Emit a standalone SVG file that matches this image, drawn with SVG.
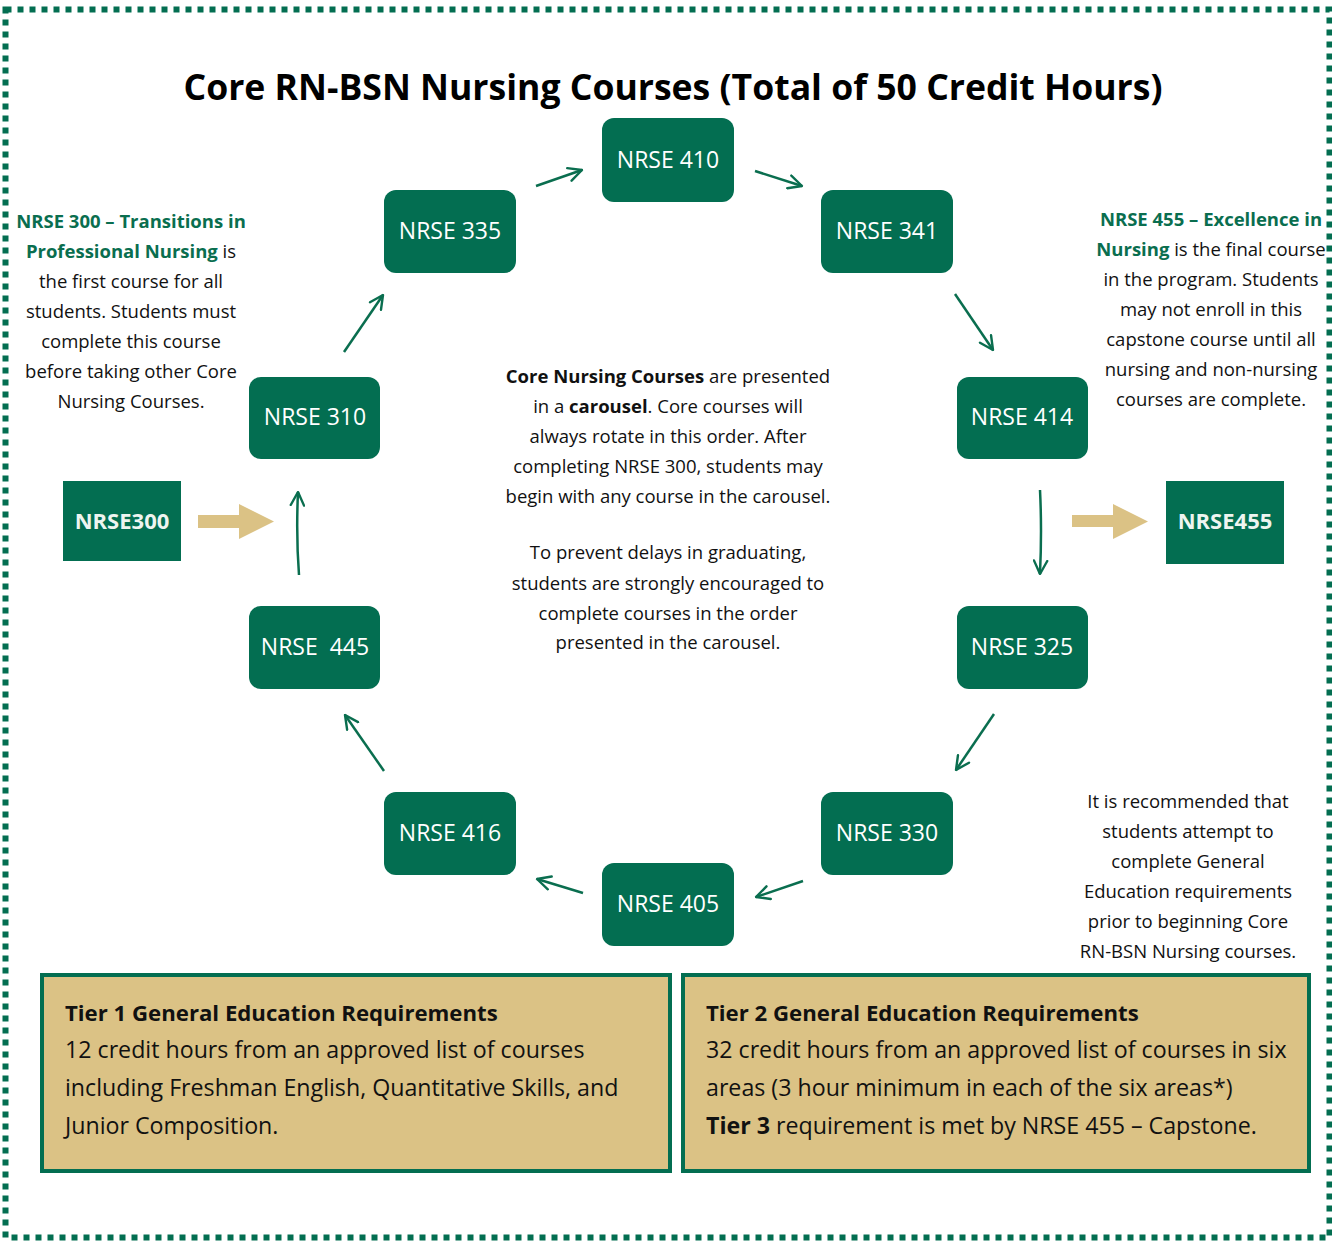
<svg xmlns="http://www.w3.org/2000/svg" width="1332" height="1242" viewBox="0 0 1332 1242">
<defs>
<style>
.node{fill:#036E51;}
.nt{font-family:"Open Sans","Liberation Sans",sans-serif;font-size:23px;fill:#ffffff;text-anchor:middle;}
.nb{font-family:"Open Sans","Liberation Sans",sans-serif;font-size:22px;font-weight:bold;fill:#eef5f0;text-anchor:middle;}
.p{font-family:"Open Sans","Liberation Sans",sans-serif;font-size:18.5px;fill:#111;text-anchor:middle;}
.g{fill:#0A6E4F;font-weight:bold;}
.b{font-weight:bold;}
.tier{fill:#DBC285;stroke:#036E51;stroke-width:4;}
.tt{font-family:"Open Sans","Liberation Sans",sans-serif;font-size:23.2px;fill:#111;}
.th{font-size:22.2px;font-weight:bold;}
.conn{stroke:#0A6E4F;stroke-width:2.5;fill:none;marker-end:url(#ah);}
.tan{fill:#DBC285;}
</style>
<marker id="ah" viewBox="0 0 12 12" refX="11" refY="6" markerWidth="16" markerHeight="16" markerUnits="userSpaceOnUse" orient="auto">
<path d="M1,1 L11,6 L1,11" fill="none" stroke="#0A6E4F" stroke-width="1.8" stroke-linecap="round" stroke-linejoin="round"/>
</marker>
</defs>
<rect x="0" y="0" width="1332" height="1242" fill="#ffffff"/>
<rect x="5.5" y="9.5" width="1324" height="1228" fill="none" stroke="#036E51" stroke-width="6" stroke-dasharray="6 6"/>
<text x="673" y="100" font-family="Open Sans, Liberation Sans, sans-serif" font-size="35" font-weight="bold" fill="#000" text-anchor="middle" textLength="979" lengthAdjust="spacingAndGlyphs">Core RN-BSN Nursing Courses (Total of 50 Credit Hours)</text>

<g id="connectors">
<line class="conn" x1="536" y1="186" x2="582" y2="170"/>
<line class="conn" x1="755" y1="171" x2="802" y2="186"/>
<line class="conn" x1="955" y1="294" x2="993" y2="350"/>
<path class="conn" d="M1040,490 Q1042,530 1040,574"/>
<line class="conn" x1="994" y1="714" x2="956" y2="770"/>
<line class="conn" x1="803" y1="881" x2="756" y2="897"/>
<line class="conn" x1="583" y1="893" x2="537" y2="879"/>
<line class="conn" x1="384" y1="771" x2="345" y2="715"/>
<path class="conn" d="M299,575 Q296,535 298,492"/>
<line class="conn" x1="344" y1="352" x2="383" y2="295"/>
<polygon class="tan" points="198,515 239,515 239,504 274,521.5 239,539 239,528 198,528"/>
<polygon class="tan" points="1072,515 1113,515 1113,504 1148,521.5 1113,539 1113,527 1072,527"/>
</g>

<g id="n410"><rect class="node" x="602" y="118" width="132" height="84" rx="12"/><text class="nt" x="668" y="168">NRSE 410</text></g>
<g id="n335"><rect class="node" x="384" y="190" width="132" height="83" rx="12"/><text class="nt" x="450" y="239">NRSE 335</text></g>
<g id="n341"><rect class="node" x="821" y="190" width="132" height="83" rx="12"/><text class="nt" x="887" y="239">NRSE 341</text></g>
<g id="n310"><rect class="node" x="249" y="377" width="131" height="82" rx="12"/><text class="nt" x="315" y="425">NRSE 310</text></g>
<g id="n414"><rect class="node" x="957" y="377" width="131" height="82" rx="12"/><text class="nt" x="1022" y="425">NRSE 414</text></g>
<g id="n445"><rect class="node" x="249" y="606" width="131" height="83" rx="12"/><text class="nt" x="315" y="655" xml:space="preserve">NRSE  445</text></g>
<g id="n325"><rect class="node" x="957" y="606" width="131" height="83" rx="12"/><text class="nt" x="1022" y="655">NRSE 325</text></g>
<g id="n416"><rect class="node" x="384" y="792" width="132" height="83" rx="12"/><text class="nt" x="450" y="841">NRSE 416</text></g>
<g id="n330"><rect class="node" x="821" y="792" width="132" height="83" rx="12"/><text class="nt" x="887" y="841">NRSE 330</text></g>
<g id="n405"><rect class="node" x="602" y="863" width="132" height="83" rx="12"/><text class="nt" x="668" y="912">NRSE 405</text></g>
<g id="n300"><rect class="node" x="63" y="481" width="118" height="80"/><text class="nb" x="122" y="529">NRSE300</text></g>
<g id="n455"><rect class="node" x="1166" y="481" width="118" height="83"/><text class="nb" x="1225" y="529">NRSE455</text></g>

<g id="note-left">
<text class="p" x="131" y="228"><tspan class="g">NRSE 300 – Transitions in</tspan></text>
<text class="p" x="131" y="258"><tspan class="g">Professional Nursing</tspan> is</text>
<text class="p" x="131" y="288">the first course for all</text>
<text class="p" x="131" y="318">students. Students must</text>
<text class="p" x="131" y="348">complete this course</text>
<text class="p" x="131" y="378">before taking other Core</text>
<text class="p" x="131" y="408">Nursing Courses.</text>
</g>
<g id="note-right">
<text class="p" x="1211" y="226"><tspan class="g">NRSE 455 – Excellence in</tspan></text>
<text class="p" x="1211" y="256"><tspan class="g">Nursing</tspan> is the final course</text>
<text class="p" x="1211" y="286">in the program. Students</text>
<text class="p" x="1211" y="316">may not enroll in this</text>
<text class="p" x="1211" y="346">capstone course until all</text>
<text class="p" x="1211" y="376">nursing and non-nursing</text>
<text class="p" x="1211" y="406">courses are complete.</text>
</g>
<g id="note-center">
<text class="p" x="668" y="383"><tspan class="b">Core Nursing Courses</tspan> are presented</text>
<text class="p" x="668" y="413">in a <tspan class="b">carousel</tspan>. Core courses will</text>
<text class="p" x="668" y="443">always rotate in this order. After</text>
<text class="p" x="668" y="473">completing NRSE 300, students may</text>
<text class="p" x="668" y="503">begin with any course in the carousel.</text>
<text class="p" x="668" y="559">To prevent delays in graduating,</text>
<text class="p" x="668" y="590">students are strongly encouraged to</text>
<text class="p" x="668" y="620">complete courses in the order</text>
<text class="p" x="668" y="649">presented in the carousel.</text>
</g>
<g id="note-bottom-right">
<text class="p" x="1188" y="808">It is recommended that</text>
<text class="p" x="1188" y="838">students attempt to</text>
<text class="p" x="1188" y="868">complete General</text>
<text class="p" x="1188" y="898">Education requirements</text>
<text class="p" x="1188" y="928">prior to beginning Core</text>
<text class="p" x="1188" y="958">RN-BSN Nursing courses.</text>
</g>

<g id="tier1">
<rect class="tier" x="42" y="975" width="628" height="196"/>
<text class="tt th" x="65" y="1021">Tier 1 General Education Requirements</text>
<text class="tt" x="65" y="1058">12 credit hours from an approved list of courses</text>
<text class="tt" x="65" y="1096">including Freshman English, Quantitative Skills, and</text>
<text class="tt" x="65" y="1134">Junior Composition.</text>
</g>
<g id="tier2">
<rect class="tier" x="683" y="975" width="626" height="196"/>
<text class="tt th" x="706" y="1021">Tier 2 General Education Requirements</text>
<text class="tt" x="706" y="1058">32 credit hours from an approved list of courses in six</text>
<text class="tt" x="706" y="1096">areas (3 hour minimum in each of the six areas*)</text>
<text class="tt" x="706" y="1134"><tspan class="b">Tier 3</tspan> requirement is met by NRSE 455 – Capstone.</text>
</g>
</svg>
